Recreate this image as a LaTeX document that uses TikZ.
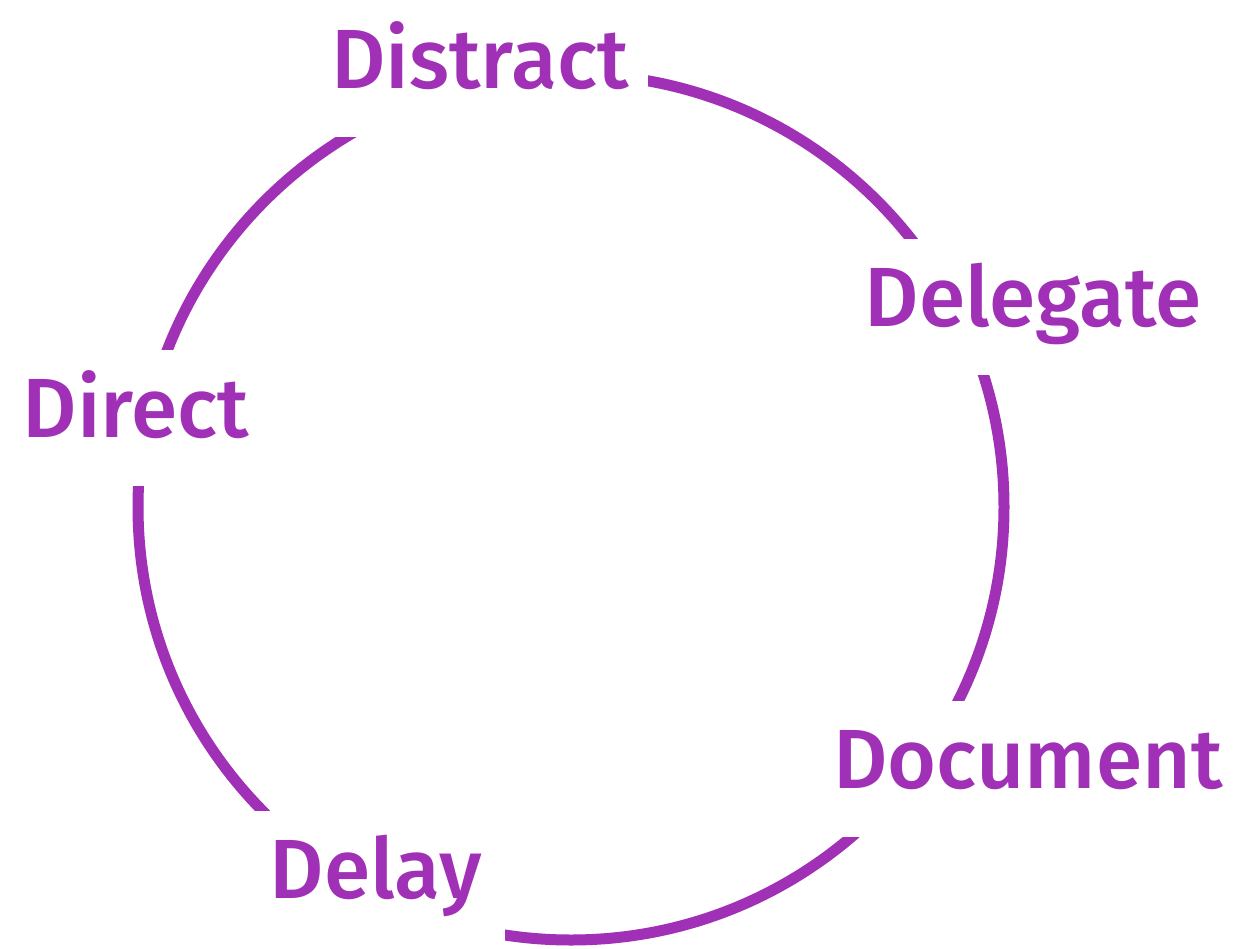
\documentclass[tikz,border=0pt]{standalone}
\usepackage{fontspec}
\setmainfont{Fira Sans}[UprightFont={* Medium}]
\usepackage{tikz}
\definecolor{cycpurple}{HTML}{A031B6}
\tikzset{
    ring/.style={draw=cycpurple,line width=11pt},
    stage/.style={fill=white,text=cycpurple,font=\fontsize{84}{100}\selectfont,
        text height=87pt,text depth=49pt,inner ysep=0pt,inner xsep=0pt,anchor=base},
}
\begin{document}
\begin{tikzpicture}[x=1pt,y=-1pt]
    \useasboundingbox (0,0) rectangle (1245,948);
    \coordinate (c) at (571,507);
    \draw[ring] (c) circle[radius=433];

    \node[stage,minimum width=336pt] (distract) at (480,88) {Distract};
    \node[stage,minimum width=379pt] (delegate) at (1033,326) {Delegate};
    \node[stage,minimum width=269pt] (direct) at (136,437) {Direct};
    \node[stage,minimum width=436pt] (document) at (1028,788) {Document};
    \node[stage,minimum width=257pt] (delay) at (376,898) {Delay};
\end{tikzpicture}
\end{document}
